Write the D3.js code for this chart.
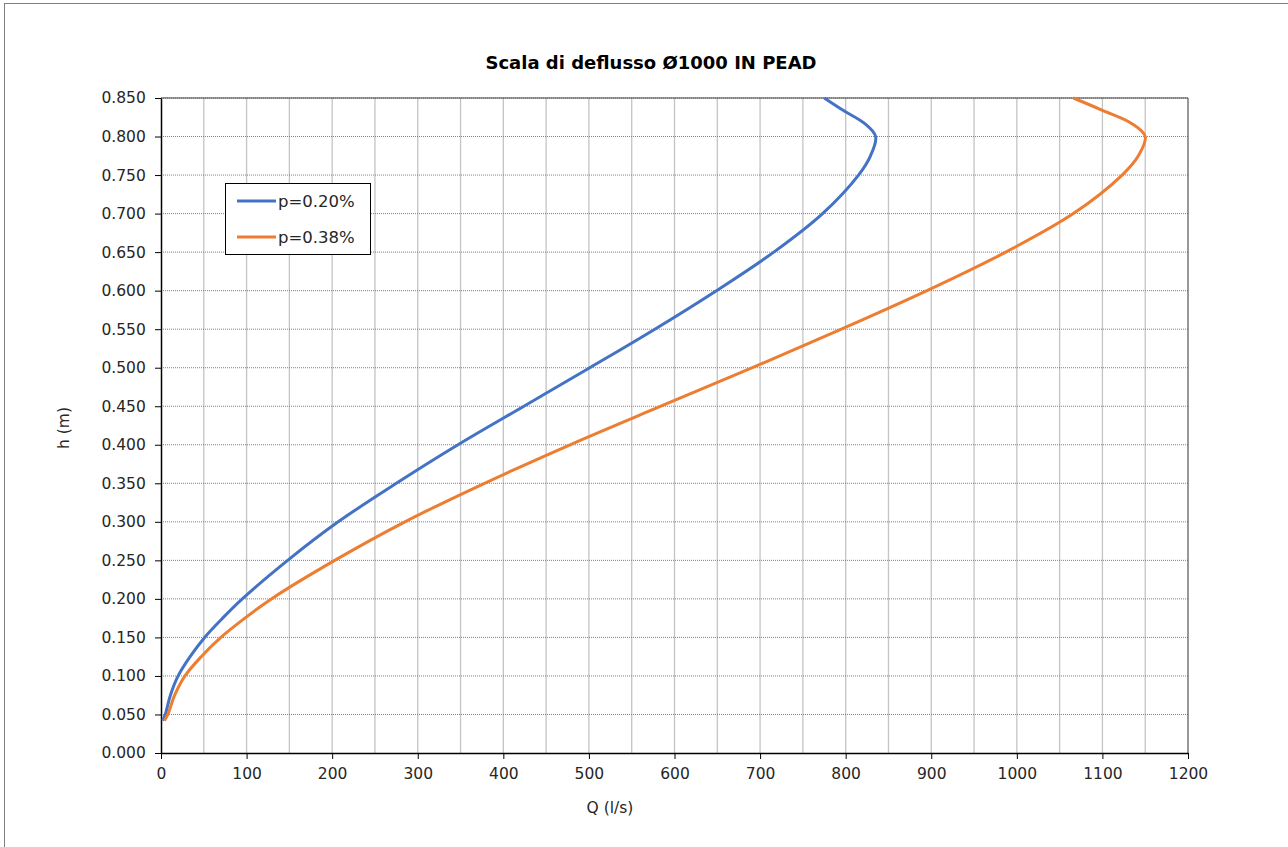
<!DOCTYPE html>
<html><head><meta charset="utf-8">
<script src="https://cdn.jsdelivr.net/npm/d3@7/dist/d3.min.js"></script>
<style>body{margin:0;background:#fff;} svg{display:block;font-family:"DejaVu Sans",sans-serif;}</style>
</head><body>
<svg id="c" width="1288" height="847"></svg>
<script>
const hValues = [0.042,0.05,0.075,0.1,0.125,0.15,0.175,0.2,0.25,0.3,0.35,0.4,0.45,0.5,0.55,0.6,0.65,0.7,0.75,0.775,0.8,0.817,0.834,0.85];
const qP020 = [2,5,11,20,34,51,72,95,148,207,275,347,424,501,577,649,716,773,815,829,835,822,797,775];
const qP038 = [4,8,16,28,47,70,98,129,203,285,378,478,584,691,795,895,987,1066,1123,1142,1150,1134,1100,1066];
const seriesNames = ["p=0.20%","p=0.38%"];
const xTicks = [0,100,200,300,400,500,600,700,800,900,1000,1100,1200];
const yTicks = [0,0.05,0.1,0.15,0.2,0.25,0.3,0.35,0.4,0.45,0.5,0.55,0.6,0.65,0.7,0.75,0.8,0.85];
const colors = ["#4472C4","#ED7D31"];

const svg = d3.select("#c");
const L=161,R=1188,T=98,B=753;
const x = d3.scaleLinear().domain([0,1200]).range([L,R]);
const y = d3.scaleLinear().domain([0,0.85]).range([B,T]);

svg.append("rect").attr("x",4.5).attr("y",3.5).attr("width",1400).attr("height",1000)
  .attr("fill","none").attr("stroke","#7f7f7f").attr("stroke-width",1);

const g = svg.append("g");
g.selectAll(".vg").data(d3.range(50,1201,50)).join("line")
  .attr("x1",d=>x(d)).attr("x2",d=>x(d)).attr("y1",T).attr("y2",B)
  .attr("stroke","#c4c4c4").attr("stroke-width",1.3);
g.selectAll(".hg").data(yTicks.slice(1)).join("line")
  .attr("x1",L).attr("x2",R).attr("y1",d=>y(d)).attr("y2",d=>y(d))
  .attr("stroke","#808080").attr("stroke-width",1).attr("stroke-dasharray","1,1");
svg.append("line").attr("x1",L).attr("x2",R).attr("y1",T).attr("y2",T).attr("stroke","#404040").attr("stroke-width",1);
svg.append("line").attr("x1",R).attr("x2",R).attr("y1",T).attr("y2",B).attr("stroke","#595959").attr("stroke-width",1);

const xAxis = d3.axisBottom(x).tickValues(xTicks).tickSize(6).tickSizeOuter(0).tickFormat(d3.format("d"));
const yAxis = d3.axisLeft(y).tickValues(yTicks).tickSize(6).tickSizeOuter(0).tickFormat(d3.format(".3f"));
const gx = svg.append("g").attr("transform",`translate(0,${B})`).call(xAxis);
const gy = svg.append("g").attr("transform",`translate(${L},0)`).call(yAxis);
[gx,gy].forEach(a=>{
  a.attr("font-family",null).attr("font-size",null);
  a.select(".domain").attr("stroke","#000").attr("stroke-width",1.5);
  a.selectAll(".tick line").attr("stroke","#000").attr("stroke-width",1);
  a.selectAll(".tick text").attr("fill","#262626").style("font-size","15.5px").style("font-family","DejaVu Sans");
});
gx.selectAll(".tick text").attr("dy","1.1em");
gy.selectAll(".tick text").attr("dx","-0.4em");

const data = [qP020,qP038].map(qs=>qs.map((q,i)=>({q,h:hValues[i]})));
const line = d3.line().x(d=>x(d.q)).y(d=>y(d.h)).curve(d3.curveCatmullRom.alpha(0.5));
svg.selectAll(".s").data(data).join("path")
  .attr("d",line).attr("fill","none").attr("stroke",(d,i)=>colors[i])
  .attr("stroke-width",3).attr("stroke-linejoin","round");

svg.append("text").attr("x",651).attr("y",69).attr("text-anchor","middle")
  .attr("font-weight","bold").attr("font-size",18).attr("fill","#000").text("Scala di deflusso Ø1000 IN PEAD");
svg.append("text").attr("x",610).attr("y",813).attr("text-anchor","middle")
  .attr("font-size",15.5).attr("fill","#262626").text("Q (l/s)");
svg.append("text").attr("transform","translate(69,428) rotate(-90)").attr("text-anchor","middle")
  .attr("font-size",15.5).attr("fill","#262626").text("h (m)");

const lg = svg.append("g");
lg.append("rect").attr("x",225.5).attr("y",183.5).attr("width",145).attr("height",71)
  .attr("fill","#fff").attr("stroke","#000").attr("stroke-width",1);
seriesNames.forEach((n,i)=>{
  const yy = 201 + i*36;
  lg.append("line").attr("x1",237).attr("x2",276).attr("y1",yy).attr("y2",yy)
    .attr("stroke",colors[i]).attr("stroke-width",3);
  lg.append("text").attr("x",278).attr("y",yy+6).attr("font-size",16.5).attr("fill","#262626").text(n);
});
</script>
</body></html>
